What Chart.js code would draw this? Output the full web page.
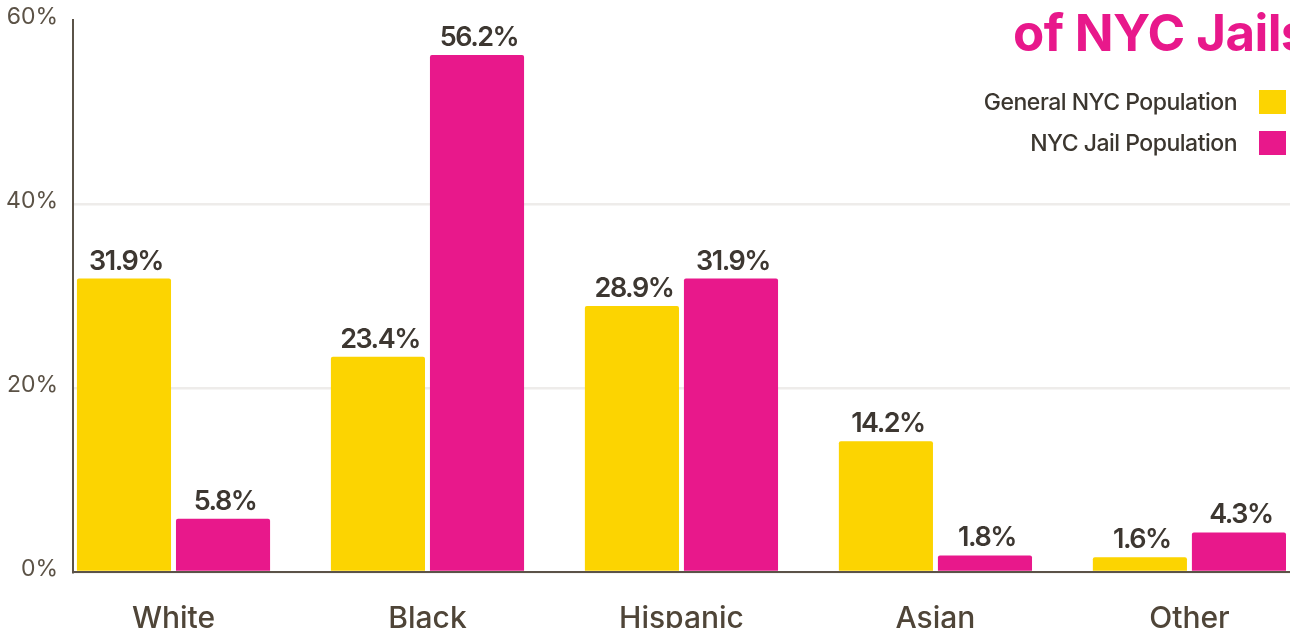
<!DOCTYPE html>
<html>
<head>
<meta charset="utf-8">
<script src="https://cdn.jsdelivr.net/npm/chart.js@4"></script>
<style>
  html, body { margin: 0; padding: 0; background: #fff; overflow: hidden; }
  #wrap { position: relative; width: 1290px; height: 628px; overflow: hidden; }
  #title {
    position: absolute; left: 1013px; top: 2px; white-space: nowrap;
    font-family: Inter, sans-serif; font-weight: 700; font-size: 51px;
    letter-spacing: -0.6px; color: #e8188b;
  }
  .leg { position: absolute; right: 4px; display: flex; align-items: center;
    font-family: Inter, sans-serif; font-weight: 500; font-size: 23px;
    letter-spacing: -0.5px; color: #3b362f; }
  .leg span.box { display: inline-block; width: 27px; height: 24px; margin-left: 22px; }
</style>
</head>
<body>
<div id="wrap">
  <canvas id="chart" width="1290" height="628"></canvas>
  <div id="title">of NYC Jails</div>
  <div class="leg" style="top:88px">General NYC Population<span class="box" style="background:#fcd401"></span></div>
  <div class="leg" style="top:129px">NYC Jail Population<span class="box" style="background:#e8188b"></span></div>
</div>
<script>
const categories = ['White', 'Black', 'Hispanic', 'Asian', 'Other'];
const generalPop = [31.9, 23.4, 28.9, 14.2, 1.6];
const jailPop = [5.8, 56.2, 31.9, 1.8, 4.3];
const yTicks = [0, 20, 40, 60];

const YELLOW = '#fcd401';
const PINK = '#e8188b';
const AXIS = '#5b5348';

// value labels above each bar
const barLabels = {
    id: 'barLabels',
    afterDatasetsDraw(chart) {
        const ctx = chart.ctx;
        ctx.save();
        ctx.font = '600 27px Inter, sans-serif';
        ctx.letterSpacing = '-1.5px';
        ctx.fillStyle = '#3d3731';
        ctx.textAlign = 'center';
        ctx.textBaseline = 'alphabetic';
        chart.data.datasets.forEach((ds, i) => {
            chart.getDatasetMeta(i).data.forEach((bar, j) => {
                ctx.fillText(ds.data[j].y.toFixed(1) + '%', bar.x + 2, bar.y - 9);
            });
        });
        ctx.restore();
    }
};

const toPoints = arr => arr.map((v, i) => ({ x: i, y: v }));

new Chart(document.getElementById('chart'), {
    type: 'bar',
    data: {
        datasets: [
            { label: 'General NYC Population', data: toPoints(generalPop), backgroundColor: YELLOW },
            { label: 'NYC Jail Population', data: toPoints(jailPop), backgroundColor: PINK }
        ]
    },
    options: {
        responsive: false,
        animation: false,
        layout: { padding: { top: 20, right: 0, left: 0, bottom: 0 } },
        categoryPercentage: 0.78,
        barPercentage: 0.95,
        borderRadius: 2,
        borderSkipped: 'start',
        plugins: {
            legend: { display: false },
            tooltip: { enabled: false }
        },
        scales: {
            x: {
                type: 'linear',
                offset: false,
                min: -0.3957,
                max: 4.396,
                afterBuildTicks: scale => { scale.ticks = categories.map((_, i) => ({ value: i })); },
                afterFit: scale => { scale.height = 56; },
                grid: { display: false },
                border: { display: true, color: AXIS, width: 2 },
                ticks: {
                    autoSkip: false,
                    maxRotation: 0,
                    padding: 21,
                    color: '#4f4538',
                    font: { family: 'Inter', size: 30, weight: 500 },
                    callback: v => categories[v]
                }
            },
            y: {
                min: 0,
                max: 60,
                afterBuildTicks: scale => { scale.ticks = yTicks.map(v => ({ value: v })); },
                afterFit: scale => { scale.width = 73; scale.paddingTop = 0; scale.paddingBottom = 0; },
                grid: {
                    drawTicks: false,
                    lineWidth: 2.5,
                    color: ctx => (ctx.tick && ctx.tick.value === 60) ? 'rgba(0,0,0,0)' : '#eeecea'
                },
                border: { display: true, color: AXIS, width: 2 },
                ticks: {
                    padding: 15,
                    labelOffset: -3,
                    color: '#5b5246',
                    font: { family: 'Inter', size: 23, lineHeight: 0.4 },
                    callback: v => v + '%'
                }
            }
        }
    },
    plugins: [barLabels]
});
</script>
</body>
</html>
